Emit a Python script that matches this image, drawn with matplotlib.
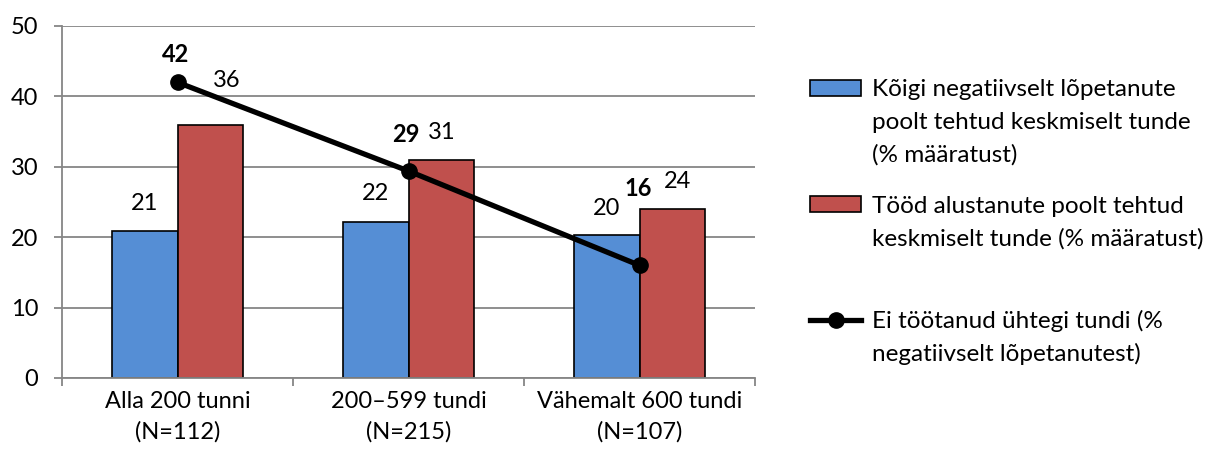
import numpy as np
import matplotlib
matplotlib.use('Agg')
import matplotlib.pyplot as plt

plt.rcParams['font.family'] = ['Lato', 'DejaVu Sans']

# data
categories = ['Alla 200 tunni\n(N=112)', '200\u2013599 tundi\n(N=215)', 'Vähemalt 600 tundi\n(N=107)']
negatiivsed = [20.9, 22.2, 20.3]
alustanud = [35.9, 31.0, 24.0]
ei_tootanud = [42.0, 29.4, 16.0]

legend_lines = [
    ['Kõigi negatiivselt lõpetanute', 'poolt tehtud keskmiselt tunde', '(% määratust)'],
    ['Tööd alustanute poolt tehtud', 'keskmiselt tunde (% määratust)'],
    ['Ei töötanud ühtegi tundi (%', 'negatiivselt lõpetanutest)'],
]

# label offsets (points) - the labels were moved by hand in the original
off_neg = [(0, 19.5), (0, 20.5), (0, 19.5)]
off_alu = [(11.5, 32), (0, 19.5), (4, 19.5)]
off_ei = [(-1.5, 20), (-2, 26), (-1, 55.5)]

W, H = 1211, 457
fig = plt.figure(figsize=(W / 100, H / 100), dpi=100)
ax = fig.add_axes([62 / W, 1 - 378 / H, (755 - 62) / W, (378 - 26) / H])

x = np.arange(len(categories))
w = 0.284
fs = 17
grey = '#868686'

b1 = ax.bar(x - w/2, negatiivsed, w, color='#558ED5', edgecolor='black', lw=1.2, zorder=2)
b2 = ax.bar(x + w/2, alustanud, w, color='#C0504D', edgecolor='black', lw=1.2, zorder=2)
ln, = ax.plot(x, ei_tootanud, color='black', lw=3.8, marker='o', ms=11, zorder=3)

for i in range(len(x)):
    ax.annotate('%.0f' % negatiivsed[i], (x[i] - w/2, negatiivsed[i]), xytext=off_neg[i],
                textcoords='offset points', ha='center', va='center', fontsize=fs)
    ax.annotate('%.0f' % alustanud[i], (x[i] + w/2, alustanud[i]), xytext=off_alu[i],
                textcoords='offset points', ha='center', va='center', fontsize=fs)
    ax.annotate('%.0f' % ei_tootanud[i], (x[i], ei_tootanud[i]), xytext=off_ei[i],
                textcoords='offset points', ha='center', va='center', fontsize=fs,
                fontweight='bold')

ax.set_xlim(-0.5, 2.5)
ax.set_ylim(0, 50)
ax.set_yticks(range(0, 51, 10))
ax.yaxis.grid(True, color=grey, lw=1.3, zorder=0)
ax.set_axisbelow(True)
ax.set_xticks(x)
ax.set_xticklabels(categories, fontsize=fs, linespacing=1.55)
ax.set_xticks([-0.5, 0.5, 1.5, 2.5], minor=True)
ax.tick_params(axis='x', which='major', length=0, pad=9)
ax.tick_params(axis='x', which='minor', length=6, width=1.3, color=grey)
ax.tick_params(axis='y', length=6, width=1.3, color=grey, labelsize=fs, pad=11)
for s in ['top', 'right']:
    ax.spines[s].set_visible(False)
for s in ['left', 'bottom']:
    ax.spines[s].set_color(grey)
    ax.spines[s].set_linewidth(1.3)

# legend: one entry per block, handle next to the first line
lfs = 17.5
first_y = [90, 206, 321]
legs = []
for handle, lines, yy in zip([b1, b2, ln], legend_lines, first_y):
    leg = fig.legend([handle], [lines[0]], loc='center left', bbox_to_anchor=(810 / W, 1 - yy / H),
                     frameon=False, fontsize=lfs, handlelength=2.1, handleheight=0.62,
                     handletextpad=0.45, borderpad=0, borderaxespad=0)
    legs.append(leg)

fig.canvas.draw()
for leg, lines, yy in zip(legs, legend_lines, first_y):
    x0 = leg.get_texts()[0].get_window_extent().x0
    for k, extra in enumerate(lines[1:], start=1):
        fig.text(x0 / W, 1 - (yy + 32.5 * k) / H, extra, ha='left', va='center', fontsize=lfs)

plt.savefig('out.png', dpi=100)
